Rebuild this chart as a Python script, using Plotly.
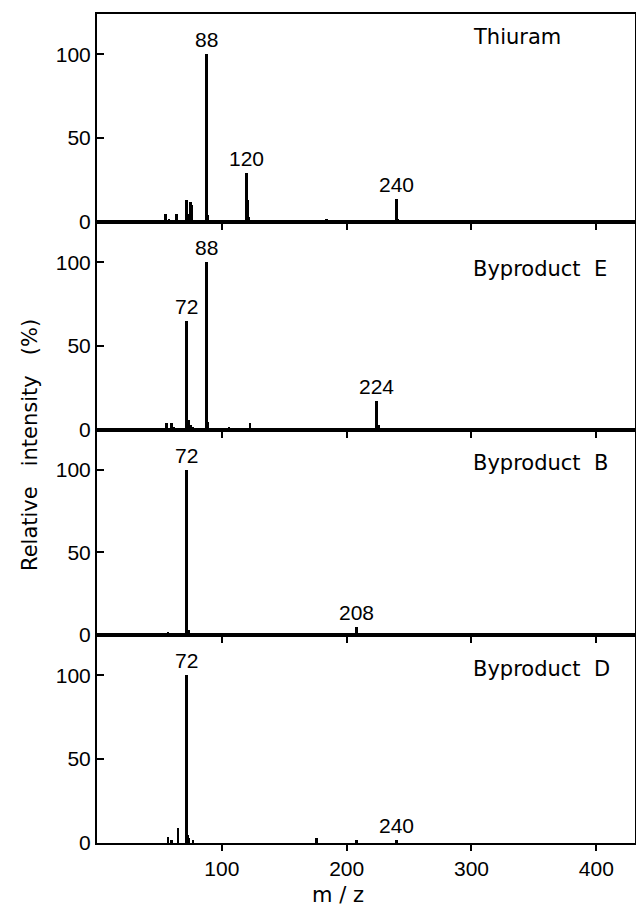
import plotly.graph_objects as go

# ---------------- data ----------------
panel_names = ["Thiuram", "Byproduct\u00a0 E", "Byproduct\u00a0 B", "Byproduct\u00a0 D"]

thiuram_mz = [55, 58, 64, 72, 73, 75, 76, 88, 89, 120, 121, 122, 184, 240, 241]
thiuram_int = [5, 2, 5, 13, 5, 12, 10, 100, 4, 29, 13, 3, 1.5, 14, 2]
thiuram_labels = [88, 120, 240]

byp_e_mz = [56, 60, 62, 72, 74, 75, 77, 88, 89, 106, 123, 180, 224, 226]
byp_e_int = [4, 4, 2, 65, 6, 3, 2, 100, 5, 2, 4, 1, 17, 3]
byp_e_labels = [72, 88, 224]

byp_b_mz = [57, 61, 72, 73, 74, 76, 208]
byp_b_int = [2, 1.5, 100, 3, 3, 1.5, 5]
byp_b_labels = [72, 208]

byp_d_mz = [57, 60, 65, 72, 73, 74, 77, 176, 208, 240]
byp_d_int = [3.5, 2, 9, 100, 5, 3, 2, 3, 1.5, 1.5]
byp_d_labels = [72, 240]

x_ticks = [100, 200, 300, 400]
y_ticks = [0, 50, 100]

name_pos_y = [110, 96, 104, 104]

panels = [
    (thiuram_mz, thiuram_int, thiuram_labels),
    (byp_e_mz, byp_e_int, byp_e_labels),
    (byp_b_mz, byp_b_int, byp_b_labels),
    (byp_d_mz, byp_d_int, byp_d_labels),
]

# ---------------- layout geometry ----------------
W, H = 636, 907
ML, MR, MT, MB = 97, 1, 14, 64
edges_px = [14, 222, 430, 635, 843]
plot_h = H - MT - MB


def py(pix):
    return (H - MB - pix) / plot_h


def px(pix):
    return (pix - ML) / (W - ML - MR)


TXT = "DejaVu Sans"
NUM = "Liberation Sans"

fig = go.Figure()
layout = dict(
    width=W, height=H,
    margin=dict(l=ML, r=MR, t=MT, b=MB),
    paper_bgcolor="white", plot_bgcolor="white",
    showlegend=False,
    bargap=0,
)
annotations = []

for i, ((mz, inten, labs), name, ny) in enumerate(zip(panels, panel_names, name_pos_y)):
    n = i + 1
    xa = "x" if n == 1 else f"x{n}"
    ya = "y" if n == 1 else f"y{n}"
    fig.add_trace(go.Bar(
        x=mz, y=inten, width=1.5,
        marker=dict(color="black", line=dict(width=0)),
        xaxis=xa, yaxis=ya, hoverinfo="x+y",
    ))
    last = (n == 4)
    layout[f"xaxis{'' if n == 1 else n}"] = dict(
        anchor=ya, domain=[0, 1], range=[0, 431],
        tickvals=x_ticks, ticks="outside", ticklen=6, tickwidth=1.5,
        tickcolor="black", showticklabels=last,
        tickfont=dict(family=NUM, size=21, color="black"),
        showline=True, linecolor="black", linewidth=2, mirror=True,
        showgrid=False, zeroline=False, automargin=False,
        **({} if n == 1 else {"matches": "x"}),
    )
    layout[f"yaxis{'' if n == 1 else n}"] = dict(
        anchor=xa, domain=[py(edges_px[i + 1]), py(edges_px[i])],
        range=[0, 124], tickvals=y_ticks, ticks="inside", ticklen=7,
        tickwidth=1.5, tickcolor="black",
        tickfont=dict(family=NUM, size=21, color="black"),
        showline=True, linecolor="black", linewidth=2, mirror=True,
        showgrid=False, zeroline=False, automargin=False,
    )
    # panel name
    annotations.append(dict(
        x=300, y=ny, xref=xa, yref=ya, text=name, showarrow=False,
        xanchor="left", yanchor="middle",
        font=dict(family=TXT, size=21, color="black"),
    ))
    # peak labels
    for m in labs:
        h = inten[mz.index(m)]
        annotations.append(dict(
            x=m, y=h, xref=xa, yref=ya, text=str(m), showarrow=False,
            xanchor="center", yanchor="bottom", yshift=1,
            font=dict(family=NUM, size=21, color="black"),
        ))

annotations.append(dict(
    x=px(30), y=py(445), xref="paper", yref="paper",
    text="Relative\u00a0\u00a0 intensity\u00a0\u00a0 (%)", textangle=-90, showarrow=False,
    xanchor="center", yanchor="middle",
    font=dict(family=TXT, size=21, color="black"),
))
annotations.append(dict(
    x=px(338), y=py(895), xref="paper", yref="paper",
    text="m / z", showarrow=False, xanchor="center", yanchor="middle",
    font=dict(family=TXT, size=21, color="black"),
))

layout["annotations"] = annotations
fig.update_layout(**layout)
fig.write_html(
    "out.html",
    config={"displayModeBar": False},
    post_script="document.body.style.margin='0px';document.body.style.overflow='hidden';",
)
